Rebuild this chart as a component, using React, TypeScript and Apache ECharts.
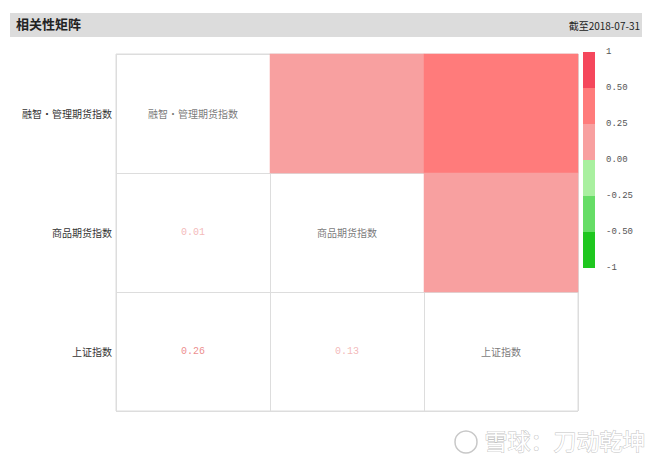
import React, { useEffect, useRef } from "react";
import * as echarts from "echarts";

const categories = ["融智・管理期货指数", "商品期货指数", "上证指数"];
// correlation pairs: [i, j, value] with i < j
const corrPairs: [number, number, number][] = [
  [0, 1, 0.01],
  [0, 2, 0.26],
  [1, 2, 0.13],
];
const pieceBounds: [number, number][] = [
  [-1, -0.5],
  [-0.5, -0.25],
  [-0.25, 0],
  [0, 0.25],
  [0.25, 0.5],
  [0.5, 1],
];
const pieceColors = ["#1fc71f", "#66dd66", "#a9f0a0", "#f8a0a0", "#ff7b7b", "#f5475c"];
const labelColors = ["#1fc71f", "#55cc55", "#88dd88", "#f0a8a8", "#e87070", "#e0405a"];
const legendTickLabels = ["1", "0.50", "0.25", "0.00", "-0.25", "-0.50", "-1"];
const titleText = "相关性矩阵";
const dateText = "截至2018-07-31";
const watermarkText = "雪球：刀动乾坤";

function pieceIndex(v: number): number {
  for (let k = 0; k < pieceBounds.length; k++) {
    const [lo, hi] = pieceBounds[k];
    if (v >= lo && v <= hi) return k;
  }
  return 0;
}

export default function App() {
  const ref = useRef<HTMLDivElement>(null);
  useEffect(() => {
    if (!ref.current) return;
    const chart = echarts.init(ref.current, undefined, { renderer: "svg" });
    // upper triangle: colored cells (x = j, y = i)
    const upper = corrPairs.map(([i, j, v]) => [j, i, v]);
    // lower triangle: text values
    const lower = corrPairs.map(([i, j, v]) => ({
      value: [i, j, v],
      label: { color: labelColors[pieceIndex(v)] },
    }));
    const diag = categories.map((c, k) => ({ value: [k, k, 0], name: c }));

    const legendTop = 52;
    const pieceH = 36;
    const legendGraphics = legendTickLabels.map((t, k) => ({
      type: "text",
      left: 606,
      top: legendTop + k * pieceH - 5,
      style: {
        text: t,
        fill: "#555",
        font: "9px 'Liberation Mono', 'DejaVu Sans Mono', monospace",
      },
    }));

    const cjkFont = "'Noto Sans CJK SC', sans-serif";

    chart.setOption({
      animation: false,
      backgroundColor: "#fff",
      grid: {
        left: 116,
        right: 82,
        top: 54,
        bottom: 54,
        show: true,
        borderColor: "#ddd",
        borderWidth: 1,
      },
      xAxis: {
        type: "category",
        data: categories,
        axisLabel: { show: false },
        axisLine: { show: false },
        axisTick: { show: false },
        splitLine: { show: true, lineStyle: { color: "#ddd" } },
      },
      yAxis: {
        type: "category",
        data: categories,
        inverse: true,
        axisLine: { show: false },
        axisTick: { show: false },
        splitLine: { show: true, lineStyle: { color: "#ddd" } },
        axisLabel: {
          color: "#333",
          fontSize: 10,
          fontFamily: cjkFont,
          margin: 4,
        },
      },
      visualMap: {
        type: "piecewise",
        seriesIndex: 0,
        orient: "vertical",
        left: 583,
        top: legendTop,
        itemWidth: 12,
        itemHeight: pieceH,
        itemGap: 0,
        itemSymbol: "rect",
        showLabel: false,
        padding: 0,
        selectedMode: false,
        pieces: pieceBounds.map(([lo, hi], k) => ({
          gt: lo,
          lte: hi,
          color: pieceColors[k],
        })),
      },
      graphic: [
        {
          type: "rect",
          left: 10,
          top: 13,
          shape: { width: 632, height: 24 },
          style: { fill: "#dcdcdc" },
          silent: true,
        },
        {
          type: "text",
          left: 16,
          top: 17,
          style: {
            text: titleText,
            fill: "#222",
            font: "bold 13px " + cjkFont,
          },
        },
        {
          type: "text",
          right: 20,
          top: 20,
          style: {
            text: dateText,
            fill: "#222",
            font: "10px " + cjkFont,
          },
        },
        ...legendGraphics,
        {
          type: "circle",
          shape: { cx: 466, cy: 442, r: 11 },
          style: { fill: "none", stroke: "#c8c8c8", lineWidth: 1.5 },
        },
        {
          type: "text",
          left: 484,
          top: 428,
          style: {
            text: watermarkText,
            fill: "#fff",
            stroke: "#c4c4c4",
            lineWidth: 1,
            font: "23px " + cjkFont,
          },
        },
      ],
      series: [
        {
          type: "heatmap",
          data: upper,
          label: { show: false },
          itemStyle: { borderWidth: 0 },
          emphasis: { disabled: true },
        },
        {
          type: "scatter",
          data: lower,
          symbolSize: 1,
          itemStyle: { color: "rgba(255,255,255,0)" },
          label: {
            show: true,
            position: "inside",
            fontSize: 10,
            fontFamily: "'Liberation Mono', 'DejaVu Sans Mono', monospace",
            formatter: (p: any) => p.value[2].toFixed(2),
          },
          emphasis: { disabled: true },
        },
        {
          type: "scatter",
          data: diag,
          symbolSize: 1,
          itemStyle: { color: "rgba(255,255,255,0)" },
          label: {
            show: true,
            position: "inside",
            fontSize: 10,
            color: "#555",
            fontFamily: cjkFont,
            formatter: (p: any) => p.name,
          },
          emphasis: { disabled: true },
        },
      ],
    });
    return () => chart.dispose();
  }, []);
  return (
    <div
      ref={ref}
      style={{ position: "fixed", left: 0, top: 0, width: 660, height: 465 }}
    />
  );
}
